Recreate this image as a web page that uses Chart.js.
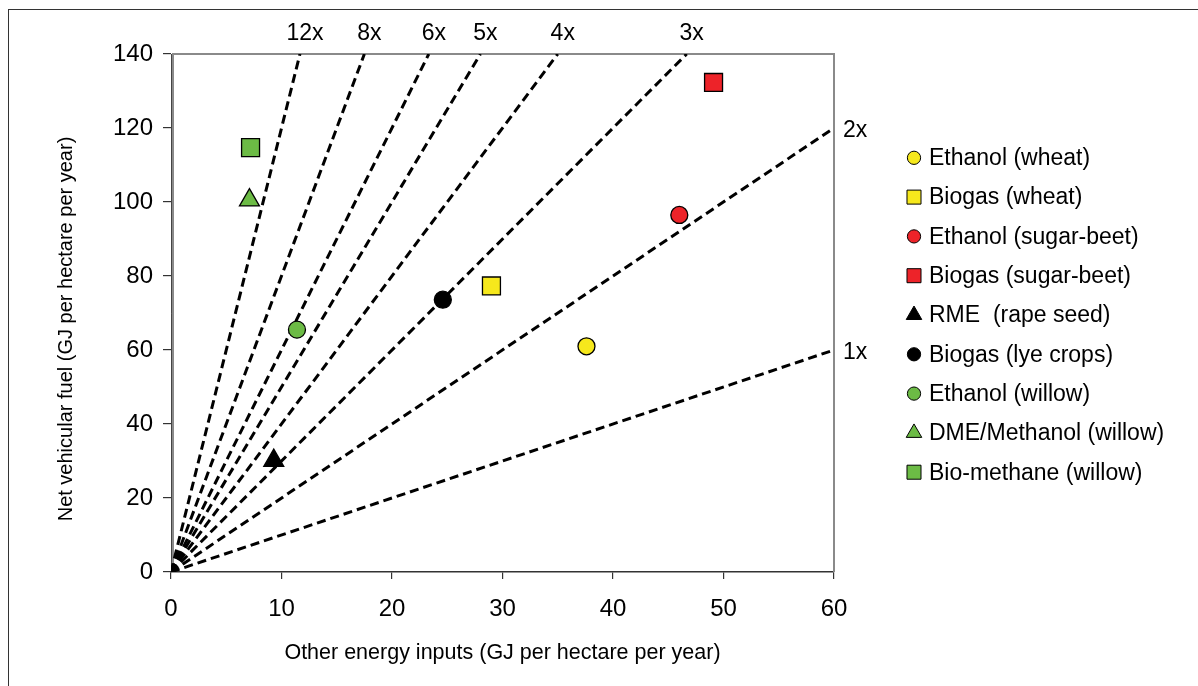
<!DOCTYPE html>
<html>
<head>
<meta charset="utf-8">
<title>Net vehicular fuel vs other energy inputs</title>
<script src="https://cdn.jsdelivr.net/npm/chart.js@4.4.1/dist/chart.umd.min.js"></script>
<style>
  html, body { margin: 0; padding: 0; background: #fff; }
  #wrap { position: relative; width: 1198px; height: 686px; overflow: hidden; }
  #frame { position: absolute; left: 8px; top: 9px; right: -2px; bottom: -2px; border-top: 1px solid #333; border-left: 1px solid #333; }
  #chart { position: absolute; left: 0; top: 0; }
</style>
</head>
<body>
<div id="wrap">
  <div id="frame"></div>
  <canvas id="chart" width="1198" height="686"></canvas>
</div>
<script>
// Fuel pathways
const seriesNames = [
    'Ethanol (wheat)', 'Biogas (wheat)', 'Ethanol (sugar-beet)', 'Biogas (sugar-beet)',
    'RME  (rape seed)', 'Biogas (lye crops)', 'Ethanol (willow)', 'DME/Methanol (willow)', 'Bio-methane (willow)'
];
const seriesX = [37.6, 29.0, 46.0, 49.1, 9.3, 24.6, 11.4, 7.1, 7.2];
const seriesY = [61.0, 77.3, 96.5, 132.3, 30.1, 73.6, 65.5, 100.5, 114.7];

// Ratio guide lines (net fuel / other inputs), from the origin to the plot edge
const ratioLabels = ['1x', '2x', '3x', '4x', '5x', '6x', '8x', '12x'];
const ratioEndX = [60, 60, 46.67, 35, 28, 23.33, 17.5, 11.67];
const ratioEndY = [60, 120, 140, 140, 140, 140, 140, 140];

const xTickValues = [0, 10, 20, 30, 40, 50, 60];
const yTickValues = [0, 20, 40, 60, 80, 100, 120, 140];

const xTitle = 'Other energy inputs (GJ per hectare per year)';
const yTitle = 'Net vehicular fuel (GJ per hectare per year)';

// marker styling
const YELLOW = '#f6e81c', RED = '#ed2329', BLACK = '#000000', GREEN = '#6cbb45';
const seriesColors = [YELLOW, YELLOW, RED, RED, BLACK, BLACK, GREEN, GREEN, GREEN];
const seriesShapes = ['circle', 'rect', 'circle', 'rect', 'triangle', 'circle', 'circle', 'triangle', 'rect'];
const shapeRadius = { circle: 8.5, rect: 12.7, triangle: 11.5 };

const FONT = "'Liberation Sans', Arial, Helvetica, sans-serif";
Chart.defaults.font.family = FONT;
Chart.defaults.color = '#000';

const pointSets = seriesNames.map((name, i) => ({
    label: name,
    data: [{ x: seriesX[i], y: seriesY[i] }],
    pointStyle: seriesShapes[i],
    radius: shapeRadius[seriesShapes[i]],
    backgroundColor: seriesColors[i],
    borderColor: '#000',
    borderWidth: 1.3
}));

const lineSets = ratioLabels.map((name, i) => ({
    label: name,
    data: [{ x: 0, y: 0 }, { x: ratioEndX[i], y: ratioEndY[i] }],
    showLine: true,
    borderColor: '#000',
    borderWidth: 3,
    borderDash: [9, 5],
    pointRadius: 0,
    fill: false
}));

// plot frame: gray border on top/right and inside the y axis
const plotFrame = {
    id: 'plotFrame',
    beforeDatasetsDraw(chart) {
        const { ctx, chartArea: a } = chart;
        ctx.save();
        ctx.strokeStyle = '#8a8a8a';
        ctx.lineWidth = 2;
        ctx.beginPath();
        ctx.moveTo(a.left + 2, a.bottom);
        ctx.lineTo(a.left + 2, a.top);
        ctx.lineTo(a.right, a.top);
        ctx.lineTo(a.right, a.bottom);
        ctx.stroke();
        ctx.restore();
    }
};

// rotated y axis title, sitting a little below the plot's middle
const yAxisTitle = {
    id: 'yAxisTitle',
    afterDraw(chart) {
        const { ctx, chartArea: a } = chart;
        ctx.save();
        ctx.font = '20px ' + FONT;
        ctx.fillStyle = '#000';
        ctx.textAlign = 'center';
        ctx.textBaseline = 'middle';
        ctx.translate(66, (a.top + a.bottom) / 2 + 16);
        ctx.rotate(-Math.PI / 2);
        ctx.fillText(yTitle, 0, 0);
        ctx.restore();
    }
};

// "Nx" labels at the outer end of each ratio line
const ratioTags = {
    id: 'ratioTags',
    afterDraw(chart) {
        const { ctx, chartArea: a, scales: { x, y } } = chart;
        ctx.save();
        ctx.font = '23px ' + FONT;
        ctx.fillStyle = '#000';
        ctx.textBaseline = 'middle';
        ratioLabels.forEach((t, i) => {
            const px = x.getPixelForValue(ratioEndX[i]);
            const py = y.getPixelForValue(ratioEndY[i]);
            if (ratioEndY[i] >= y.max) {
                ctx.textAlign = 'center';
                ctx.fillText(t, px + 5, a.top - 20);
            } else {
                ctx.textAlign = 'left';
                ctx.fillText(t, a.right + 9, py + 3);
            }
        });
        ctx.restore();
    }
};

// legend on the right, markers drawn with the dataset styles
const sideLegend = {
    id: 'sideLegend',
    afterDraw(chart) {
        const { ctx, chartArea: a } = chart;
        const step = 39.3;
        const y0 = (a.top + a.bottom) / 2 + 2 - step * (seriesNames.length - 1) / 2;
        ctx.save();
        ctx.font = '23px ' + FONT;
        ctx.textAlign = 'left';
        ctx.textBaseline = 'middle';
        seriesNames.forEach((name, i) => {
            const ds = chart.data.datasets[i];
            const cy = y0 + i * step;
            const mx = a.right + 80;
            ctx.fillStyle = ds.backgroundColor;
            ctx.strokeStyle = '#000';
            Chart.helpers.drawPoint(ctx, {
                pointStyle: ds.pointStyle,
                radius: ds.radius * 0.78,
                borderWidth: 1.2,
                rotation: 0
            }, mx, cy);
            ctx.fillStyle = '#000';
            ctx.fillText(name, a.right + 95, cy + 1);
        });
        ctx.restore();
    }
};

new Chart(document.getElementById('chart'), {
    type: 'scatter',
    data: { datasets: [...pointSets, ...lineSets] },
    options: {
        responsive: false,
        animation: false,
        events: [],
        layout: { padding: { top: 54, right: 364, bottom: 0, left: 0 } },
        plugins: {
            legend: { display: false },
            tooltip: { enabled: false }
        },
        scales: {
            x: {
                type: 'linear',
                min: 0, max: 60,
                afterBuildTicks: s => { s.ticks = xTickValues.map(v => ({ value: v })); },
                afterFit: s => { s.height = 114; },
                grid: { drawOnChartArea: false, drawTicks: true, tickLength: 7, color: '#333', lineWidth: 1.2 },
                border: { display: true, color: '#333', width: 1.5 },
                ticks: { font: { size: 24 }, padding: 16, color: '#000', maxRotation: 0 },
                title: {
                    display: true,
                    text: xTitle,
                    font: { size: 21.5 },
                    padding: { top: 0, bottom: 20 }
                }
            },
            y: {
                type: 'linear',
                min: 0, max: 140,
                afterBuildTicks: s => { s.ticks = yTickValues.map(v => ({ value: v })); },
                afterFit: s => { s.width = 171; },
                grid: { drawOnChartArea: false, drawTicks: true, tickLength: 8, color: '#333', lineWidth: 1.2 },
                border: { display: true, color: '#444', width: 1 },
                ticks: { font: { size: 24 }, padding: 10, color: '#000' }
            }
        }
    },
    plugins: [plotFrame, yAxisTitle, ratioTags, sideLegend]
});
</script>
</body>
</html>
